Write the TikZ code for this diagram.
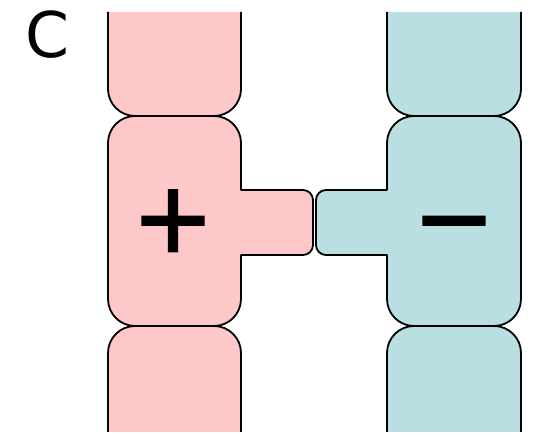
\documentclass[tikz,border=0pt]{standalone}
\usepackage{fontspec}
\setmainfont{DejaVu Sans}
\newfontfamily\signfont[FakeBold=2]{DejaVu Sans}
\definecolor{acidpink}{RGB}{255,200,200}
\definecolor{baseteal}{RGB}{185,223,226}
\begin{document}
\begin{tikzpicture}[x=1pt,y=1pt,
  seg/.style={line width=1.8pt, draw=black, line join=round},
  pinkseg/.style={seg, fill=acidpink},
  tealseg/.style={seg, fill=baseteal},
  sign/.style={inner sep=0pt, font=\signfont\fontsize{98}{98}\selectfont, anchor=base},
  panel/.style={inner sep=0pt, font=\fontsize{63}{63}\selectfont}]
\useasboundingbox (0,0) rectangle (539,435);

% left strand (pink)
\filldraw[pinkseg] (108,423) -- (108,346) arc[start angle=180,end angle=270,radius=27]
  -- (214,319) arc[start angle=270,end angle=360,radius=27] -- (241,423);
\filldraw[pinkseg] (108,292) arc[start angle=180,end angle=90,radius=27]
  -- (214,319) arc[start angle=90,end angle=0,radius=27]
  -- (241,245) -- (303,245) arc[start angle=90,end angle=0,radius=10]
  -- (313,190) arc[start angle=0,end angle=-90,radius=10]
  -- (241,180) -- (241,136) arc[start angle=0,end angle=-90,radius=27]
  -- (135,109) arc[start angle=-90,end angle=-180,radius=27] -- cycle;
\filldraw[pinkseg] (108,3) -- (108,82) arc[start angle=180,end angle=90,radius=27]
  -- (214,109) arc[start angle=90,end angle=0,radius=27] -- (241,3);

% right strand (teal)
\filldraw[tealseg] (387,423) -- (387,346) arc[start angle=180,end angle=270,radius=27]
  -- (494,319) arc[start angle=270,end angle=360,radius=27] -- (521,423);
\filldraw[tealseg] (521,292) arc[start angle=0,end angle=90,radius=27]
  -- (414,319) arc[start angle=90,end angle=180,radius=27]
  -- (387,245) -- (326,245) arc[start angle=90,end angle=180,radius=10]
  -- (316,190) arc[start angle=180,end angle=270,radius=10]
  -- (387,180) -- (387,136) arc[start angle=180,end angle=270,radius=27]
  -- (494,109) arc[start angle=270,end angle=360,radius=27] -- cycle;
\filldraw[tealseg] (387,3) -- (387,82) arc[start angle=180,end angle=90,radius=27]
  -- (494,109) arc[start angle=90,end angle=0,radius=27] -- (521,3);

% labels
\node[panel] (label) at (47,400) {C};
\node[sign] (plus) at (173,183.5) {+};
\node[sign] (minus) at (454,183.5) {−};
\end{tikzpicture}
\end{document}
